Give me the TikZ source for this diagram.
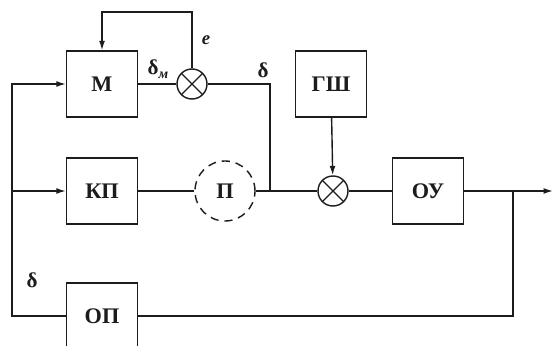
\documentclass[tikz,border=0pt]{standalone}
\usepackage{fontspec}
\setmainfont{Liberation Serif}
\usetikzlibrary{arrows.meta,positioning,calc}
\definecolor{inkgray}{RGB}{28,28,28}
\tikzset{
  blockbox/.style={draw=inkgray, line width=1.2pt, minimum width=2.13cm, minimum height=1.98cm, inner sep=0pt, text=inkgray, font=\fontsize{19}{21}\selectfont\bfseries},
  sumnode/.style={draw=inkgray, line width=1.2pt, circle, minimum size=0.9cm, inner sep=0pt,
    path picture={\draw[inkgray, line width=1.2pt] (path picture bounding box.north west) -- (path picture bounding box.south east)
      (path picture bounding box.north east) -- (path picture bounding box.south west);}},
  channode/.style={draw=inkgray, line width=1.2pt, circle, dash pattern=on 7pt off 5pt, minimum size=1.8cm, inner sep=0pt, text=inkgray, font=\fontsize{19}{21}\selectfont\bfseries},
  link/.style={draw=inkgray, line width=1.2pt},
  arrowlink/.style={link, -{Latex[length=8pt,width=5pt]}},
  siglabel/.style={text=inkgray, font=\fontsize{18}{20}\selectfont\bfseries}
}
\begin{document}
\begin{tikzpicture}[x=0.03cm, y=-0.03cm]
\clip (0,0) rectangle (553,346);
\fill[white] (0,0) rectangle (553,346);
\node[blockbox] (model) at (102,84) {М};
\node[blockbox] (kp) at (102,191) {КП};
\node[blockbox] (opbox) at (102,316) {ОП};
\node[blockbox] (gsh) at (331,84) {ГШ};
\node[blockbox] (ou) at (428,191) {ОУ};
\node[sumnode] (summ) at (192,84) {};
\node[sumnode] (sumn) at (333,191) {};
\node[channode] (pnode) at (225,191) {П};
\coordinate (etop) at (192,12);
\coordinate (dcorner) at (270,84);
\coordinate (dnode) at (270,191);
\coordinate (outsplit) at (513,191);
\coordinate (outend) at (553,191);
\coordinate (fbcorner) at (513,316);
\coordinate (leftbot) at (12,316);
\coordinate (leftmid) at (12,191);
\coordinate (lefttop) at (12,84);
\draw[link] (model) -- (summ);
\draw[arrowlink] (summ) -- (etop) -| (model);
\draw[link] (summ) -- (dcorner) -- (dnode);
\draw[link] (kp) -- (pnode);
\draw[link] (pnode) -- (sumn);
\draw[arrowlink] (gsh) -- (sumn);
\draw[link] (sumn) -- (ou);
\draw[arrowlink] (ou) -- (outend);
\draw[link] (outsplit) -- (fbcorner) -- (opbox);
\draw[arrowlink] (opbox) -- (leftbot) -- (lefttop) -- (model);
\draw[arrowlink] (leftmid) -- (kp);
\node[siglabel] (dmlabel) at (158,69) {δ\raisebox{-0.45ex}{\fontsize{12}{14}\selectfont\itshape м}};
\node[siglabel] (elabel) at (206,40) {\fontsize{16}{18}\selectfont\itshape e};
\node[siglabel] (dlabel) at (263,70) {δ};
\node[siglabel] (dfblabel) at (32,280) {δ};
\end{tikzpicture}
\end{document}
